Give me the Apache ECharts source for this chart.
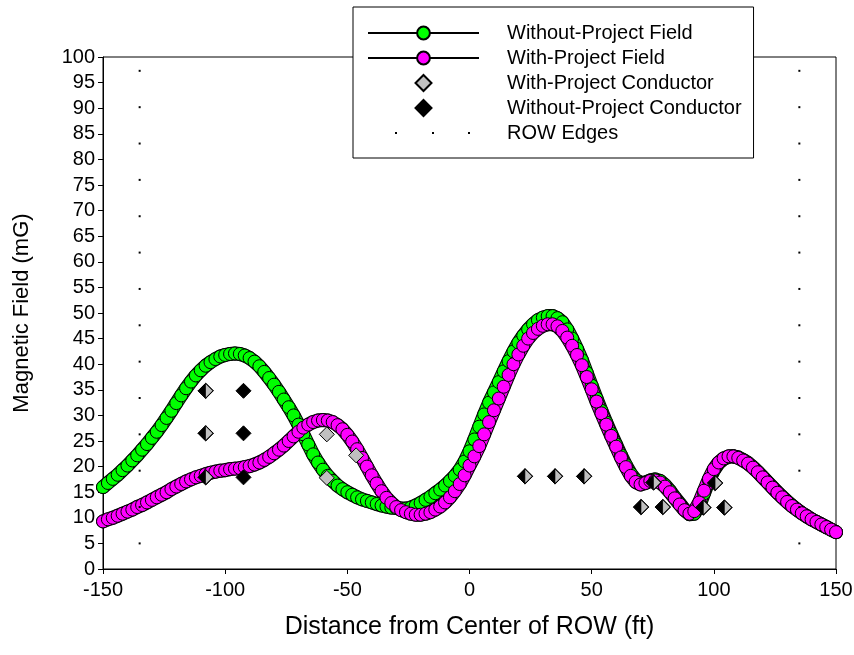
<!DOCTYPE html>
<html>
<head>
<meta charset="utf-8">
<script src="https://cdn.jsdelivr.net/npm/echarts@6/dist/echarts.min.js"></script>
<style>
  html, body { margin: 0; background: #fff; }
  #chart { width: 854px; height: 655px; }
</style>
</head>
<body>
<div id="chart"></div>
<script>
// field profiles sampled every 2 ft from -150 to 150
const fieldStart = -150;
const fieldStep = 2;

const withoutProjectField = [
  16.0, 16.8, 17.6, 18.4, 19.3, 20.2, 21.2, 22.2, 23.3, 24.4,
  25.6, 26.8, 28.1, 29.5, 30.9, 32.4, 33.9, 35.3, 36.6, 37.8,
  38.8, 39.7, 40.4, 41.0, 41.5, 41.8, 42.0, 42.1, 42.0, 41.7,
  41.2, 40.5, 39.6, 38.5, 37.3, 36.0, 34.6, 33.1, 31.6, 30.0,
  28.2, 26.3, 24.3, 22.4, 20.8, 19.4, 18.2, 17.2, 16.3, 15.6,
  15.0, 14.5, 14.0, 13.6, 13.3, 13.0, 12.7, 12.4, 12.2, 12.0,
  11.9, 11.8, 11.8, 12.0, 12.4, 12.9, 13.5, 14.1, 14.8, 15.5,
  16.3, 17.2, 18.2, 19.4, 21.0, 23.0, 25.3, 27.8, 30.2, 32.5,
  34.5, 36.5, 38.6, 40.6, 42.5, 44.2, 45.6, 46.8, 47.8, 48.6,
  49.1, 49.4, 49.4, 49.0, 48.2, 46.8, 45.0, 43.0, 40.8, 38.3,
  35.8, 33.3, 30.9, 28.6, 26.4, 24.3, 22.2, 20.3, 18.6, 17.4,
  16.8, 16.9, 17.3, 17.5, 17.2, 16.4, 15.3, 14.0, 12.8, 11.6,
  10.7, 10.8, 12.3, 14.8, 17.3, 19.3, 20.7, 21.5, 21.9, 22.0,
  21.8, 21.3, 20.7, 19.9, 19.0, 18.0, 17.0, 16.0, 15.0, 14.1,
  13.2, 12.4, 11.6, 10.9, 10.3, 9.7, 9.2, 8.7, 8.2, 7.7,
  7.2
];

const withProjectField = [
  9.3, 9.7, 10.0, 10.4, 10.8, 11.2, 11.6, 12.1, 12.5, 13.0,
  13.5, 14.0, 14.5, 15.0, 15.6, 16.1, 16.6, 17.1, 17.5, 17.9,
  18.2, 18.5, 18.8, 19.0, 19.2, 19.3, 19.5, 19.6, 19.7, 19.9,
  20.1, 20.4, 20.8, 21.3, 21.9, 22.6, 23.3, 24.1, 25.0, 25.9,
  26.8, 27.6, 28.2, 28.7, 29.0, 29.1, 29.0, 28.7, 28.1, 27.3,
  26.2, 24.9, 23.4, 21.7, 20.0, 18.3, 16.7, 15.2, 13.9, 12.9,
  12.1, 11.5, 11.1, 10.8, 10.6, 10.6, 10.8, 11.1, 11.6, 12.2,
  13.0, 14.0, 15.2, 16.6, 18.3, 20.2, 22.0, 24.0, 26.3, 28.7,
  31.0, 33.3, 35.6, 37.9, 40.0, 41.9, 43.6, 45.0, 46.1, 46.9,
  47.5, 47.8, 47.8, 47.4, 46.5, 45.2, 43.6, 41.8, 39.8, 37.5,
  35.1, 32.7, 30.4, 28.2, 26.0, 23.9, 21.8, 19.9, 18.2, 17.0,
  16.5, 16.8, 17.2, 17.3, 16.9, 16.1, 15.0, 13.8, 12.6, 11.5,
  10.8, 11.3, 13.0, 15.3, 17.6, 19.5, 20.8, 21.6, 22.0, 22.0,
  21.7, 21.2, 20.6, 19.8, 18.9, 17.9, 16.9, 15.9, 14.9, 14.0,
  13.1, 12.3, 11.6, 10.9, 10.3, 9.7, 9.2, 8.7, 8.2, 7.7,
  7.2
];

// conductor markers [distance ft, value on the field axis]
const withProjectConductor = [
  [-108, 34.8], [-108, 26.5], [-108, 17.9],
  [-58.4, 26.3], [-46.4, 22.2], [-58.4, 17.8],
  [22.7, 18.1], [35, 18.1], [46.9, 18.1],
  [70.2, 12.1], [75.3, 16.9], [79.1, 12.1],
  [95.7, 12], [100.5, 16.8], [104.3, 12]
];
const withoutProjectConductor = [
  [-108, 34.8], [-108, 26.5], [-108, 17.9],
  [-92.5, 34.8], [-92.5, 26.5], [-92.5, 17.9],
  [22.7, 18.1], [35, 18.1], [46.9, 18.1],
  [70.2, 12.1], [75.3, 16.9], [79.1, 12.1],
  [95.7, 12], [100.5, 16.8], [104.3, 12]
];

const rowEdgeX = [-135, 135];
const rowEdgeY = [5, 12.1, 19.2, 26.3, 33.4, 40.5, 47.6, 54.7, 61.8, 68.9, 76, 83.1, 90.2, 97.3];

const xTicks = { min: -150, max: 150, interval: 50 };
const yTicks = { min: 0, max: 100, interval: 5 };

const font = "'Liberation Sans', Arial, sans-serif";

const toPairs = vals => vals.map((v, i) => [fieldStart + i * fieldStep, v]);

// conductors shared by both cases are drawn half black / half gray
const shared = withProjectConductor.filter(p =>
  withoutProjectConductor.some(q => q[0] === p[0] && q[1] === p[1]));

const rowEdges = [];
rowEdgeX.forEach(x => rowEdgeY.forEach(y => rowEdges.push([x, y])));

// thick tube under the circle markers so the dense symbol trail looks continuous
function tube(name, vals, color) {
  return [
    {
      name: name + ' outline', type: 'line', data: toPairs(vals), symbol: 'none', silent: true,
      lineStyle: { color: '#000', width: 14, cap: 'round', join: 'round' }, z: 2
    },
    {
      name: name + ' fill', type: 'line', data: toPairs(vals), symbol: 'none', silent: true,
      lineStyle: { color: color, width: 12, cap: 'round', join: 'round' }, z: 2
    },
    {
      name: name, type: 'line', data: toPairs(vals),
      symbol: 'circle', symbolSize: 13,
      showSymbol: true, showAllSymbol: true,
      itemStyle: { color: color, borderColor: '#000', borderWidth: 1 },
      lineStyle: { color: '#000', width: 1 },
      z: 2
    }
  ];
}

const chart = echarts.init(document.getElementById('chart'));

chart.setOption({
  animation: false,
  backgroundColor: '#fff',
  textStyle: { fontFamily: font },
  grid: {
    left: 103, right: 18, top: 57, bottom: 86,
    show: true, borderColor: '#000', borderWidth: 1,
    outerBoundsMode: 'none'
  },
  legend: {
    orient: 'vertical',
    left: 353, top: 7,
    padding: [16, 12, 15, 14],
    itemWidth: 111, itemHeight: 16, itemGap: 5,
    borderColor: '#000', borderWidth: 1,
    backgroundColor: '#fff',
    selectedMode: false,
    textStyle: { fontFamily: font, fontSize: 20, color: '#000', padding: [0, 0, 0, 23] },
    data: [
      { name: 'Without-Project Field' },
      { name: 'With-Project Field' },
      { name: 'With-Project Conductor', icon: 'path://M0,-1L1,0L0,1L-1,0Z' },
      { name: 'Without-Project Conductor', icon: 'path://M0,-1L1,0L0,1L-1,0Z' },
      { name: 'ROW Edges', icon: 'path://M0,0M111,16M27,7h2v2h-2zM64,7h2v2h-2zM100,7h2v2h-2z' }
    ]
  },
  xAxis: {
    type: 'value',
    min: xTicks.min, max: xTicks.max, interval: xTicks.interval,
    name: 'Distance from Center of ROW (ft)',
    nameLocation: 'middle', nameGap: 46,
    nameTextStyle: { fontFamily: font, fontSize: 25, color: '#000' },
    axisLine: { onZero: false, lineStyle: { color: '#000', width: 1 } },
    axisTick: { length: 5, lineStyle: { color: '#000' } },
    axisLabel: { fontFamily: font, fontSize: 20, color: '#000', margin: 11 },
    splitLine: { show: false }
  },
  yAxis: {
    type: 'value',
    min: yTicks.min, max: yTicks.max, interval: yTicks.interval,
    name: 'Magnetic Field (mG)',
    nameLocation: 'middle', nameGap: 70,
    nameTextStyle: { fontFamily: font, fontSize: 22, color: '#000' },
    axisLine: { show: true, onZero: false, lineStyle: { color: '#000', width: 1 } },
    axisTick: { show: true, length: 5, lineStyle: { color: '#000' } },
    axisLabel: { fontFamily: font, fontSize: 20, color: '#000', margin: 8 },
    splitLine: { show: false }
  },
  series: [
    ...tube('Without-Project Field', withoutProjectField, '#00ff00'),
    ...tube('With-Project Field', withProjectField, '#ff00ff'),
    {
      name: 'With-Project Conductor',
      type: 'scatter',
      data: withProjectConductor,
      symbol: 'diamond', symbolSize: 15,
      itemStyle: { color: '#c0c0c0', borderColor: '#000', borderWidth: 1, opacity: 1 },
      z: 3
    },
    {
      name: 'Without-Project Conductor',
      type: 'scatter',
      data: withoutProjectConductor,
      symbol: 'diamond', symbolSize: 15,
      itemStyle: { color: '#000', borderColor: '#000', borderWidth: 1, opacity: 1 },
      z: 3
    },
    {
      name: 'shared',
      type: 'scatter',
      data: shared,
      symbol: 'path://M0,-1L1,0L0,1Z',
      symbolSize: [7.5, 15], symbolOffset: [3.75, 0],
      itemStyle: { color: '#c0c0c0', borderColor: '#000', borderWidth: 0.8, opacity: 1 },
      silent: true,
      z: 3
    },
    {
      name: 'ROW Edges',
      type: 'scatter',
      data: rowEdges,
      symbol: 'rect', symbolSize: 2,
      itemStyle: { color: '#000', opacity: 1 },
      z: 3
    }
  ]
});
</script>
</body>
</html>
